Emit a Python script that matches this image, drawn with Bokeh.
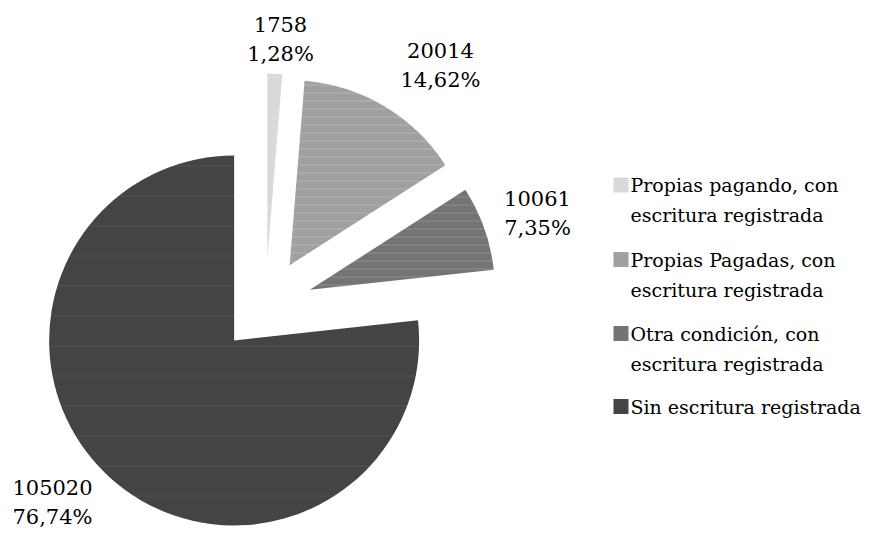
import numpy as np
from bokeh.plotting import figure
from bokeh.models import Range1d, ColumnDataSource
from bokeh.embed import file_html
from bokeh.resources import INLINE
from bokeh.core.properties import value

# ---- data ----
categories = [
    "Propias pagando, con escritura registrada",
    "Propias Pagadas, con escritura registrada",
    "Otra condición, con escritura registrada",
    "Sin escritura registrada",
]
legend_lines = [
    ["Propias pagando, con", "escritura registrada"],
    ["Propias Pagadas, con", "escritura registrada"],
    ["Otra condición, con", "escritura registrada"],
    ["Sin escritura registrada"],
]
counts = [1758, 20014, 10061, 105020]

# ---- styles ----
colors = ["#d9d9d9", "#a0a0a0", "#747474", "#444444"]
hatch_scales = [8, 8, 8, 30]
hatch_alphas = [0.15, 0.22, 0.18, 0.07]

# ---- layout (picture pixel space, y downward) ----
W, H = 864, 534
cx_img, cy_img = 265, 305
R = 185
EXPLODE = 47
label_xy_img = [(280, 39), (440, 65), (537, 213), (52, 502)]
LINE = 30
legend_sq_x, legend_txt_x = 620.5, 630
legend_sq_y_img = [184.5, 259, 333, 406]
FONT = value("DejaVu Serif")

p = figure(width=W, height=H, x_range=Range1d(0, W), y_range=Range1d(0, H),
           output_backend="svg", toolbar_location=None, min_border=0)
p.axis.visible = False
p.grid.visible = False
p.outline_line_color = None
p.background_fill_color = "white"
p.border_fill_color = "white"

vals = np.array(counts, dtype=float)
frac = vals / vals.sum()
cum_end = np.cumsum(frac)
cum_start = cum_end - frac
start = np.pi / 2 - cum_end * 2 * np.pi
end = np.pi / 2 - cum_start * 2 * np.pi
mid = (start + end) / 2
cx, cy = cx_img, H - cy_img
xs = cx + EXPLODE * np.cos(mid)
ys = cy + EXPLODE * np.sin(mid)

src = ColumnDataSource(dict(x=xs, y=ys, start=start, end=end, color=colors,
                            hs=hatch_scales, ha=hatch_alphas))
p.wedge(x="x", y="y", radius=R, start_angle="start", end_angle="end",
        direction="anticlock", fill_color="color", line_color=None,
        hatch_pattern="horizontal_line", hatch_color="white",
        hatch_alpha="ha", hatch_scale="hs", hatch_weight=1, source=src)

labels = [f"{c}\n{f * 100:.2f}%".replace(".", ",") for c, f in zip(counts, frac)]
lsrc = ColumnDataSource(dict(
    x=[a for a, b in label_xy_img],
    y=[H - b for a, b in label_xy_img],
    text=labels))
p.text(x="x", y="y", text="text", source=lsrc, text_align="center",
       text_baseline="middle", text_font=FONT, text_font_size="21px",
       text_color="black", text_line_height=1.2)

gsrc = ColumnDataSource(dict(
    x=[legend_sq_x] * len(categories),
    y=[H - v for v in legend_sq_y_img],
    color=colors))
p.rect(x="x", y="y", width=15, height=15, fill_color="color",
       line_color=None, source=gsrc)

tx, ty, tt = [], [], []
for sy, lines in zip(legend_sq_y_img, legend_lines):
    for k, ln in enumerate(lines):
        tx.append(legend_txt_x)
        ty.append(H - (sy + k * LINE))
        tt.append(ln)
tsrc = ColumnDataSource(dict(x=tx, y=ty, text=tt))
p.text(x="x", y="y", text="text", source=tsrc, text_align="left",
       text_baseline="middle", text_font=FONT, text_font_size="19px",
       text_color="black")

open("out.html", "w").write(file_html(p, INLINE))
